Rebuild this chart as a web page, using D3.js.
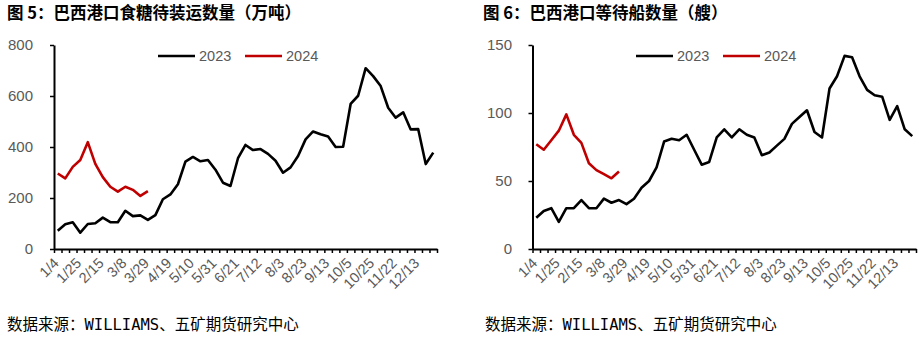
<!DOCTYPE html>
<html>
<head>
<meta charset="utf-8">
<script src="https://cdn.jsdelivr.net/npm/d3@7"></script>
<style>
  html, body { margin: 0; padding: 0; background: #fff; }
  svg { display: block; }
</style>
</head>
<body>
<svg id="chart" width="924" height="338"></svg>
<script>
// Weekly dates (week-ending) shared by both panels
const weeks = [
  "1/4","1/11","1/18","1/25","2/1","2/8","2/15","2/22","3/1","3/8",
  "3/15","3/22","3/29","4/5","4/12","4/19","4/26","5/3","5/10","5/17",
  "5/24","5/31","6/7","6/14","6/21","6/28","7/5","7/12","7/19","7/26",
  "8/3","8/9","8/16","8/23","8/30","9/6","9/13","9/20","9/27","10/5",
  "10/11","10/18","10/25","11/8","11/15","11/22","11/29","12/6","12/13","12/20",
  "12/27"
];
// Dates printed under the x axis
const weekLabels = ["1/4","1/25","2/15","3/8","3/29","4/19","5/10","5/31","6/21","7/12",
  "8/3","8/23","9/13","10/5","10/25","11/22","12/13"];

// Sugar awaiting shipment at Brazilian ports (10k tonnes)
const sugar2023 = [72,97,105,64,98,101,123,105,105,150,
  129,132,114,133,195,214,254,343,361,344,
  349,311,260,247,356,408,388,392,373,346,
  299,320,365,430,461,450,441,400,401,569,
  601,709,678,639,554,515,536,469,470,333,
  378];
const sugar2024 = [296,277,322,349,419,334,282,244,225,244,232,208,227];
const sugarTicks = [0,200,400,600,800];

// Vessels waiting at Brazilian ports
const ships2023 = [23,28,30,20,30,30,36,30,30,37,
  34,36,33,37,45,50,60,79,81,80,
  84,73,62,64,82,88,82,88,84,82,
  69,71,76,81,92,97,102,86,82,118,
  127,142,141,127,117,113,112,95,105,88,
  83];
const ships2024 = [77,73,80,87,99,84,78,63,58,55,52,57];
const shipTicks = [0,50,100,150];

const seriesNames = ["2023","2024"];
const seriesColors = ["#000000","#C00000"];

const svg = d3.select("#chart");
const tickFont = "'Liberation Sans', Arial, sans-serif";
const cjkFont = "'Noto Sans CJK SC', sans-serif";
const grey = "#595959";

function panel(opt) {
  const g = svg.append("g");
  const x = d3.scaleBand().domain(weeks).range([opt.left, opt.right]);
  const y = d3.scaleLinear().domain([0, opt.yMax]).range([opt.bottom, opt.top]);
  const cx = d => x(d) + x.bandwidth() / 2;

  // title
  g.append("text")
    .attr("x", opt.titleX).attr("y", 19)
    .attr("font-family", cjkFont).attr("font-weight", "bold")
    .attr("font-size", 16.5).attr("fill", "#000")
    .text(opt.title);

  // y axis
  const yAxis = g.append("g")
    .attr("transform", `translate(${opt.left},0)`)
    .call(d3.axisLeft(y).tickValues(opt.ticks).tickSize(4).tickPadding(opt.yPad).tickSizeOuter(0));
  yAxis.select(".domain").attr("stroke", "#000").attr("stroke-width", 2);
  yAxis.selectAll(".tick line").attr("stroke", "#000").attr("stroke-width", 1.5);
  yAxis.selectAll(".tick text")
    .attr("font-family", tickFont).attr("font-size", 15).attr("fill", grey);

  // x axis: tick marks on every week boundary
  const xb = d3.scaleLinear().domain([0, weeks.length]).range([opt.left, opt.right]);
  const xAxis = g.append("g")
    .attr("transform", `translate(0,${opt.bottom})`)
    .call(d3.axisBottom(xb).tickValues(d3.range(weeks.length + 1)).tickSize(4).tickSizeOuter(0).tickFormat(""));
  xAxis.select(".domain").attr("stroke", "#000").attr("stroke-width", 2);
  xAxis.selectAll(".tick line").attr("stroke", "#000").attr("stroke-width", 1.5);

  // x labels, rotated
  g.append("g").selectAll("text")
    .data(weekLabels)
    .join("text")
    .attr("transform", d => `translate(${cx(d) + 2},${opt.bottom + 15}) rotate(-45)`)
    .attr("text-anchor", "end")
    .attr("font-family", tickFont).attr("font-size", 14.5).attr("fill", grey)
    .text(d => d);

  // lines
  const line = d3.line().x((v, i) => cx(weeks[i])).y(v => y(v));
  [opt.s2023, opt.s2024].forEach((s, k) => {
    g.append("path")
      .attr("d", line(s))
      .attr("fill", "none")
      .attr("stroke", seriesColors[k])
      .attr("stroke-width", 2.6)
      .attr("stroke-linejoin", "round");
  });

  // legend
  const lg = g.append("g");
  seriesNames.forEach((name, k) => {
    const lx = opt.legendX[k];
    lg.append("line")
      .attr("x1", lx).attr("x2", lx + 37)
      .attr("y1", 56).attr("y2", 56)
      .attr("stroke", seriesColors[k]).attr("stroke-width", 2.6);
    lg.append("text")
      .attr("x", lx + 41).attr("y", 61)
      .attr("font-family", tickFont).attr("font-size", 14.5).attr("fill", grey)
      .text(name);
  });

  // source note
  const src = g.append("text")
    .attr("x", opt.srcX).attr("y", 330)
    .attr("font-family", cjkFont).attr("font-size", 15.5).attr("fill", "#000");
  src.append("tspan").text("数据来源：");
  src.append("tspan").attr("font-family", "'DejaVu Sans Mono', monospace").attr("font-size", 15.5).text("WILLIAMS");
  src.append("tspan").text("、五矿期货研究中心");
}

panel({
  title: "图 5：巴西港口食糖待装运数量（万吨）", titleX: 7,
  left: 54, right: 437, top: 45, bottom: 249, yMax: 800, yPad: 17,
  ticks: sugarTicks, s2023: sugar2023, s2024: sugar2024,
  legendX: [158, 245], srcX: 7
});
panel({
  title: "图 6：巴西港口等待船数量（艘）", titleX: 483,
  left: 532.5, right: 916, top: 45, bottom: 249, yMax: 150, yPad: 16.5,
  ticks: shipTicks, s2023: ships2023, s2024: ships2024,
  legendX: [636, 723], srcX: 485
});
</script>
</body>
</html>
